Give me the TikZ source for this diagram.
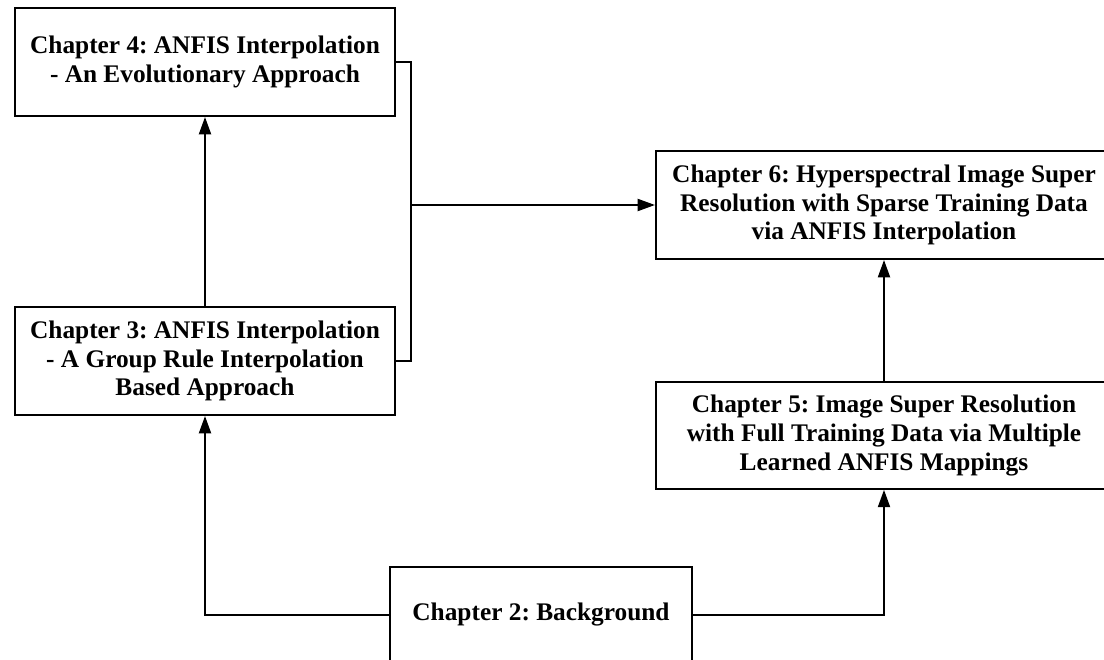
\documentclass[tikz,border=0pt]{standalone}
\usepackage{fontspec}
\setmainfont{Liberation Serif}
\frenchspacing
\usetikzlibrary{arrows.meta}
\tikzset{
  chap/.style={draw, line width=1.5pt, fill=white, align=center, inner sep=0pt,
    font=\fontsize{19}{21.5}\selectfont\bfseries},
  conn/.style={line width=1.5pt},
  arr/.style={conn, -{Triangle[length=13pt,width=9pt]}}
}
\begin{document}
\begin{tikzpicture}[x=0.75pt,y=-0.75pt]
\useasboundingbox (0,0) rectangle (1104,660);
\clip (0,0) rectangle (1104,660);
\node[chap, minimum width=285pt, minimum height=81pt] (c4) at (205,62) {Chapter 4: ANFIS Interpolation\\- An Evolutionary Approach};
\node[chap, minimum width=285pt, minimum height=81pt] (c3) at (205,361) {Chapter 3: ANFIS Interpolation\\- A Group Rule Interpolation\\Based Approach};
\node[chap, minimum width=342pt, minimum height=81pt] (c6) at (884,205) {Chapter 6: Hyperspectral Image Super\\Resolution with Sparse Training Data\\via ANFIS Interpolation};
\node[chap, minimum width=342pt, minimum height=80pt] (c5) at (884,435.5) {Chapter 5: Image Super Resolution\\with Full Training Data via Multiple\\Learned ANFIS Mappings};
\node[chap, minimum width=226.5pt, minimum height=72pt] (c2) at (541,615) {Chapter 2: Background};
\coordinate (jt) at (411,62);
\coordinate (jb) at (411,361);
\coordinate (jm) at (411,205);
\draw[arr] (c2.west) -| (c3.south);
\draw[arr] (c2.east) -| (c5.south);
\draw[arr] (c5.north) -- (c6.south);
\draw[arr] (c3.north) -- (c4.south);
\draw[conn] (c4.east) -- (jt) -- (jb) -- (c3.east);
\draw[arr] (jm) -- (c6.west);
\end{tikzpicture}
\end{document}
